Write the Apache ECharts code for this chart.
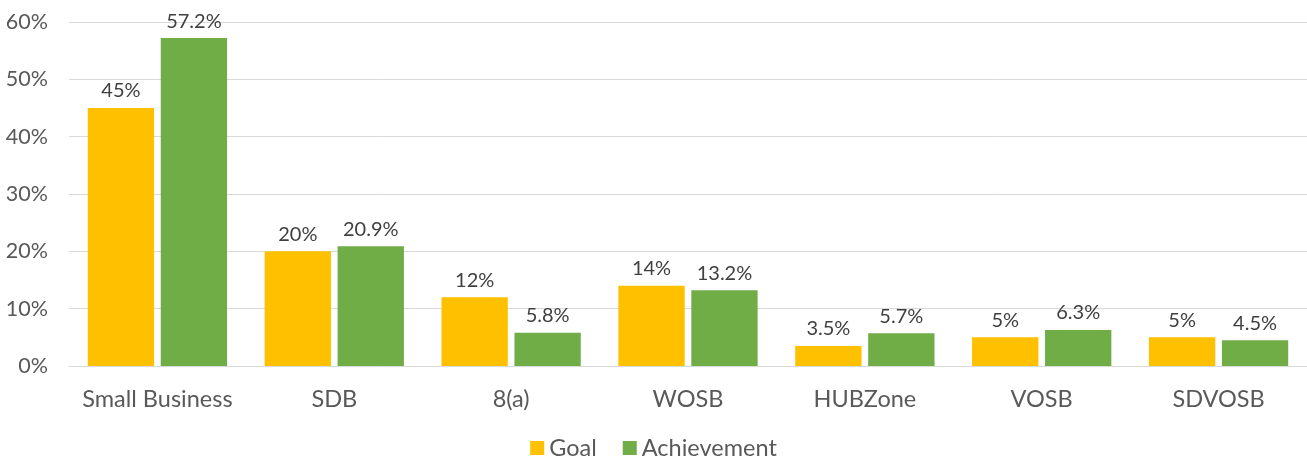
<!DOCTYPE html>
<html><head><meta charset="utf-8">
<script src="https://cdn.jsdelivr.net/npm/echarts@6/dist/echarts.min.js"></script>
<style>html,body{margin:0;padding:0;background:#fff}#c{width:1307px;height:457px}</style>
</head><body><div id="c"></div>
<script>
const categories = ['Small Business','SDB','8(a)','WOSB','HUBZone','VOSB','SDVOSB'];
const goal = [45, 20, 12, 14, 3.5, 5, 5];
const achievement = [57.2, 20.9, 5.8, 13.2, 5.7, 6.3, 4.5];
const yTicks = [0, 10, 20, 30, 40, 50, 60];

const font = 'Lato, "Open Sans", sans-serif';
const chart = echarts.init(document.getElementById('c'));
const lbl = {show:true, position:'top', distance:7, color:'#404040', fontSize:20, fontFamily:font, formatter: p => p.value + '%'};
chart.setOption({
  animation:false,
  grid:{left:69, right:0, top:22, bottom:91},
  legend:{top:431, left:'center', itemWidth:14, itemHeight:14, itemGap:26,
    textStyle:{color:'#595959', fontSize:23.5, fontFamily:font},
    data:[{name:'Goal', icon:'rect'},{name:'Achievement', icon:'rect'}]},
  xAxis:{type:'category', data:categories,
    axisLine:{lineStyle:{color:'#D9D9D9'}}, axisTick:{show:false},
    axisLabel:{color:'#595959', fontSize:23.5, fontFamily:font, margin:21, interval:0}},
  yAxis:{type:'value', min:yTicks[0], max:yTicks[yTicks.length-1], interval:10,
    axisLabel:{color:'#595959', fontSize:21.5, fontFamily:font, margin:21, formatter: v => v + '%'},
    splitLine:{lineStyle:{color:'#D9D9D9', width:1}},
    axisLine:{show:false}, axisTick:{show:false}},
  series:[
    {name:'Goal', type:'bar', data:goal, itemStyle:{color:'#FFC000'}, barWidth:'37.5%', barGap:'10%', label:lbl},
    {name:'Achievement', type:'bar', data:achievement, itemStyle:{color:'#70AD47'}, barWidth:'37.5%', barGap:'10%', label:lbl}
  ]
});
</script></body></html>
